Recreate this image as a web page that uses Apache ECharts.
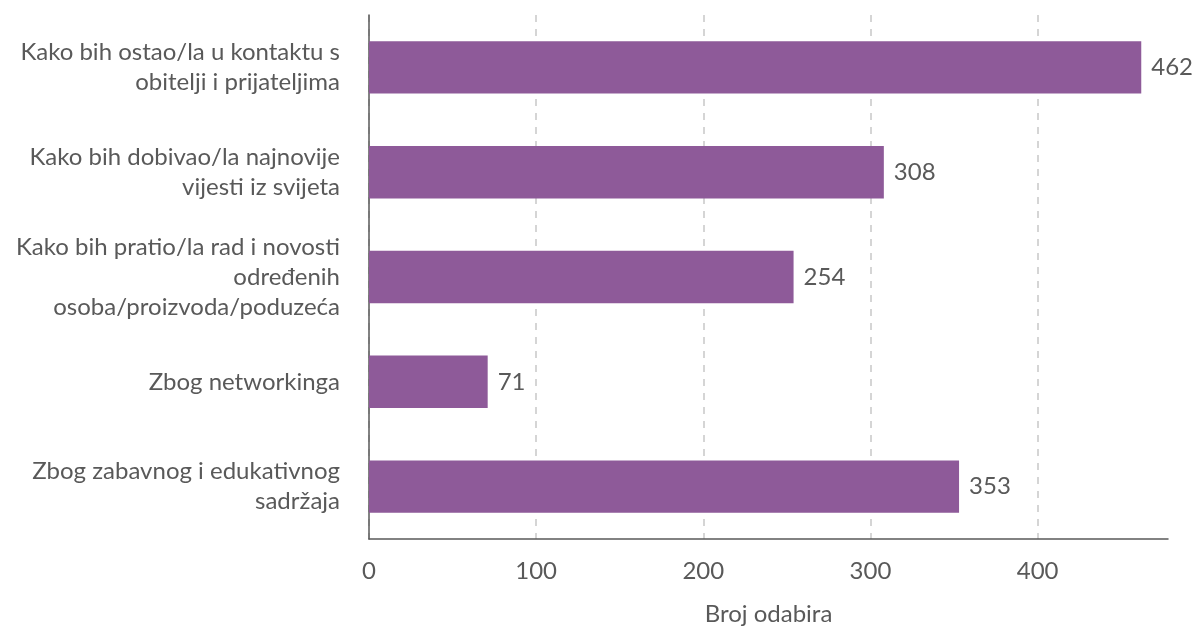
<!DOCTYPE html>
<html>
<head>
<meta charset="utf-8">
<script src="https://cdn.jsdelivr.net/npm/echarts@6/dist/echarts.min.js"></script>
<style>html,body{margin:0;padding:0;background:#fff}#c{width:1194px;height:631px}</style>
</head>
<body>
<div id="c"></div>
<script>
var categories = [
  'Kako bih ostao/la u kontaktu s\nobitelji i prijateljima',
  'Kako bih dobivao/la najnovije\nvijesti iz svijeta',
  'Kako bih pratio/la rad i novosti\nodređenih\nosoba/proizvoda/poduzeća',
  'Zbog networkinga',
  'Zbog zabavnog i edukativnog\nsadržaja'
];
var values = [462, 308, 254, 71, 353];
var xTicks = [0, 100, 200, 300, 400];
var axisName = 'Broj odabira';

var FONT = 'Lato, "Open Sans", sans-serif';
var TXT = '#595959';
var chart = echarts.init(document.getElementById('c'), null, {renderer: 'canvas'});
chart.setOption({
  animation: false,
  grid: {left: 369, right: 26, top: 15, bottom: 91, containLabel: false},
  xAxis: {
    type: 'value', min: 0, max: 478, interval: 100,
    name: axisName, nameLocation: 'middle', nameGap: 63,
    nameTextStyle: {color: TXT, fontSize: 24, fontFamily: FONT},
    axisLine: {show: true, lineStyle: {color: '#595959', width: 1.5}},
    axisTick: {show: false},
    axisLabel: {color: TXT, fontSize: 24, fontFamily: FONT, margin: 20, showMaxLabel: false,
      formatter: function (v) { return xTicks.indexOf(v) >= 0 ? String(v) : ''; }},
    splitLine: {show: true, showMaxLine: false, lineStyle: {color: '#c8c8c8', type: [7, 7], width: 1.5}}
  },
  yAxis: {
    type: 'category', data: categories, inverse: true,
    axisLine: {show: true, lineStyle: {color: '#595959', width: 1.5}},
    axisTick: {show: false},
    axisLabel: {color: TXT, fontSize: 24, fontFamily: FONT, margin: 29, align: 'right', lineHeight: 30}
  },
  series: [{
    type: 'bar', data: values, barWidth: '50%',
    itemStyle: {color: '#8e5a99'},
    label: {show: true, position: 'right', distance: 10, color: TXT, fontSize: 24, fontFamily: FONT}
  }]
});
</script>
</body>
</html>
